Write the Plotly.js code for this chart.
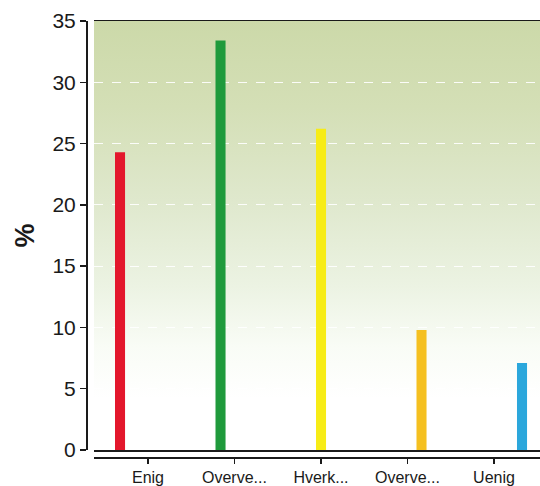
<!DOCTYPE html>
<html>
<head>
<meta charset="utf-8">
<script src="https://cdn.plot.ly/plotly-3.0.1.min.js"></script>
<style>
html,body{margin:0;padding:0;background:#fff;}
#wrap{position:relative;width:540px;height:486px;}
#bg{position:absolute;left:94px;top:21px;width:446px;height:429px;
background:linear-gradient(to bottom,#ccd9a9 0%,#d4dfb6 20%,#dfe8cd 42%,#ecf3e3 62%,#f9fcf6 76%,#ffffff 88%);}
#chart{position:absolute;left:0;top:0;width:540px;height:486px;}
</style>
</head>
<body>
<div id="wrap"><div id="bg"></div><div id="chart"></div></div>
<script>
const categories = ["Enig", "Overve...", "Hverk...", "Overve...", "Uenig"];
const values = [24.3, 33.4, 26.2, 9.8, 7.1];
const barColors = ["#e3172c", "#1f9a3c", "#f7ec16", "#f5c020", "#2ba7dc"];
const yTicks = [0, 5, 10, 15, 20, 25, 30, 35];

const barPos = categories.map((c, i) => i);

const traces = [
  {
    type: "bar",
    x: barPos,
    y: values,
    width: 0.1,
    marker: {color: barColors, line: {width: 0}},
    xaxis: "x",
    yaxis: "y",
    hoverinfo: "none"
  },
  {
    type: "scatter",
    mode: "markers",
    x: categories.map((c, i) => i),
    y: categories.map(() => 0),
    marker: {opacity: 0},
    xaxis: "x2",
    yaxis: "y",
    hoverinfo: "none",
    showlegend: false
  }
];

const dom = [8/454, 1];
const ydom = [7/436, 1];

const layout = {
  width: 540, height: 486,
  margin: {l: 86, r: 0, t: 21, b: 29, pad: 0},
  paper_bgcolor: "rgba(0,0,0,0)",
  plot_bgcolor: "rgba(0,0,0,0)",
  showlegend: false,
  font: {family: "Liberation Sans, Arial, sans-serif", color: "#1a1a1a"},
  xaxis: {
    domain: dom,
    range: [-0.259, 4.179],
    showgrid: false, zeroline: false,
    showticklabels: false, ticks: "",
    showline: true, linecolor: "#1a1a1a", linewidth: 1.5, mirror: true,
    fixedrange: true
  },
  xaxis2: {
    domain: dom,
    anchor: "free", position: 0,
    overlaying: "x",
    range: [-0.624, 4.532],
    tickvals: categories.map((c, i) => i),
    ticktext: categories,
    ticks: "outside", ticklen: 5, tickwidth: 1.5, tickcolor: "#1a1a1a",
    showline: true, linecolor: "#1a1a1a", linewidth: 1.5,
    showgrid: false, zeroline: false,
    tickfont: {size: 16, color: "#1a1a1a"},
    fixedrange: true
  },
  yaxis: {
    domain: ydom,
    anchor: "free", position: 0,
    range: [0, 35],
    tickvals: yTicks,
    ticks: "outside", ticklen: 6, tickwidth: 1.5, tickcolor: "#1a1a1a",
    showline: true, linecolor: "#1a1a1a", linewidth: 1.5,
    showgrid: true, gridcolor: "rgba(255,255,255,0.9)", griddash: "dash", gridwidth: 1,
    zeroline: false,
    tickfont: {size: 21, color: "#1a1a1a"},
    title: {text: "<b>%</b>", font: {size: 27, color: "#1a1a1a"}, standoff: 8},
    fixedrange: true
  },
  yaxis2: {
    domain: ydom,
    overlaying: "y",
    anchor: "x",
    side: "left",
    range: [0, 35],
    showline: true, linecolor: "#1a1a1a", linewidth: 1.5,
    showticklabels: false, ticks: "", showgrid: false, zeroline: false,
    fixedrange: true
  }
};

Plotly.newPlot("chart", traces, layout, {displayModeBar: false, staticPlot: true});
</script>
</body>
</html>
